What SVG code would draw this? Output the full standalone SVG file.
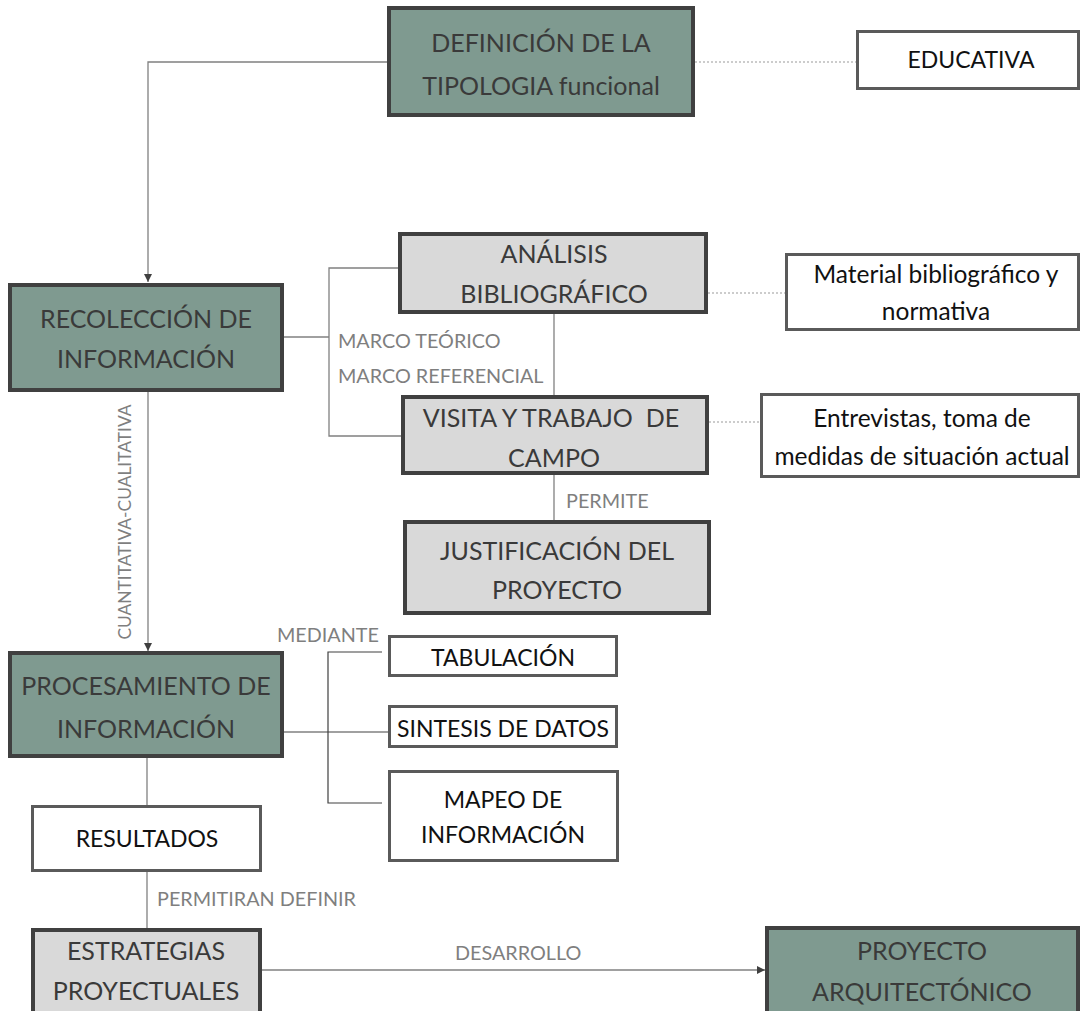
<svg xmlns="http://www.w3.org/2000/svg" width="1084" height="1011" viewBox="0 0 1084 1011">
<defs>
<style>
.sage{fill:#7f9a90;stroke:#404040;stroke-width:4}
.grey{fill:#d9d9d9;stroke:#404040;stroke-width:4}
.white{fill:#ffffff;stroke:#5a5a5a;stroke-width:3}
.t{font-family:Lato,"Liberation Sans",sans-serif;font-size:25px;fill:#3a3a3a;text-anchor:middle}
.tw{font-family:Lato,"Liberation Sans",sans-serif;font-size:23px;fill:#111111;text-anchor:middle}
.tl{font-size:24.5px}
.lbl{font-family:Lato,"Liberation Sans",sans-serif;font-size:19.8px;fill:#7f7f7f}
.vl{font-size:17.4px;text-anchor:middle}
.c{fill:none;stroke:#808080;stroke-width:1.3}
.cd{fill:none;stroke:#404040;stroke-width:1.2}
.d{fill:none;stroke:#9a9a9a;stroke-width:1.2;stroke-dasharray:2 2}
</style>
<marker id="arr" viewBox="0 0 10 10" refX="10" refY="5" markerWidth="8" markerHeight="8" markerUnits="userSpaceOnUse" orient="auto">
<path d="M0,0 L10,5 L0,10 z" fill="#404040"/>
</marker>
</defs>

<g id="connectors">
<polyline class="c" points="387,62 148,62 148,282" marker-end="url(#arr)"/>
<line class="c" x1="148" y1="392" x2="148" y2="651" marker-end="url(#arr)"/>
<line class="c" x1="284" y1="337" x2="329" y2="337"/>
<polyline class="c" points="398,268 329,268 329,436 401,436"/>
<line class="c" x1="554" y1="314" x2="554" y2="395"/>
<line class="c" x1="554" y1="475" x2="554" y2="520"/>
<line class="c" x1="284" y1="732" x2="388" y2="732"/>
<polyline class="cd" points="382,652 328,652 328,803 382,803"/>
<line class="c" x1="147" y1="758" x2="147" y2="805"/>
<line class="c" x1="147" y1="872" x2="147" y2="928"/>
<line class="c" x1="262" y1="970" x2="765" y2="970" marker-end="url(#arr)"/>
<line class="d" x1="695" y1="62" x2="856" y2="62"/>
<line class="d" x1="708" y1="293" x2="785" y2="293"/>
<line class="d" x1="709" y1="422" x2="760" y2="422"/>
<text class="lbl" x="338" y="348">MARCO TEÓRICO</text>
<text class="lbl" x="338" y="383">MARCO REFERENCIAL</text>
<text class="lbl" x="566" y="508">PERMITE</text>
<text class="lbl" x="277" y="642">MEDIANTE</text>
<text class="lbl" x="157" y="906">PERMITIRAN DEFINIR</text>
<text class="lbl" x="455" y="960">DESARROLLO</text>
<text class="lbl vl" transform="translate(131,522) rotate(-90)">CUANTITATIVA-CUALITATIVA</text>
</g>

<g id="n-definicion">
<rect class="sage" x="389" y="8" width="304" height="107"/>
<text class="t" x="541" y="52">DEFINICIÓN DE LA</text>
<text class="t" x="541" y="95">TIPOLOGIA funcional</text>
</g>
<g id="n-educativa">
<rect class="white" x="857.5" y="31.5" width="221" height="57"/>
<text class="tw" x="971" y="68">EDUCATIVA</text>
</g>
<g id="n-recoleccion">
<rect class="sage" x="10" y="285" width="272" height="105"/>
<text class="t" x="146" y="328">RECOLECCIÓN DE</text>
<text class="t" x="146" y="368">INFORMACIÓN</text>
</g>
<g id="n-analisis">
<rect class="grey" x="400" y="234" width="306" height="78"/>
<text class="t" x="554" y="263">ANÁLISIS</text>
<text class="t" x="554" y="303">BIBLIOGRÁFICO</text>
</g>
<g id="n-material">
<rect class="white" x="786.5" y="254.5" width="292" height="75"/>
<text class="tw tl" x="936" y="283">Material bibliográfico y</text>
<text class="tw tl" x="936" y="320">normativa</text>
</g>
<g id="n-visita">
<rect class="grey" x="403" y="397" width="304" height="76"/>
<text class="t" x="551" y="427" xml:space="preserve">VISITA Y TRABAJO  DE</text>
<text class="t" x="554" y="467">CAMPO</text>
</g>
<g id="n-entrevistas">
<rect class="white" x="761.5" y="394.5" width="317" height="82"/>
<text class="tw tl" x="922" y="427">Entrevistas, toma de</text>
<text class="tw tl" x="922" y="465">medidas de situación actual</text>
</g>
<g id="n-justificacion">
<rect class="grey" x="405" y="522" width="304" height="91"/>
<text class="t" x="557" y="560">JUSTIFICACIÓN DEL</text>
<text class="t" x="557" y="599">PROYECTO</text>
</g>
<g id="n-procesamiento">
<rect class="sage" x="10" y="653" width="272" height="103"/>
<text class="t" x="146" y="695">PROCESAMIENTO DE</text>
<text class="t" x="146" y="738">INFORMACIÓN</text>
</g>
<g id="n-tabulacion">
<rect class="white" x="389.5" y="636.5" width="227" height="39"/>
<text class="tw" x="503" y="666">TABULACIÓN</text>
</g>
<g id="n-sintesis">
<rect class="white" x="389.5" y="706.5" width="227" height="40"/>
<text class="tw" x="503" y="737">SINTESIS DE DATOS</text>
</g>
<g id="n-mapeo">
<rect class="white" x="389.5" y="771.5" width="228" height="89"/>
<text class="tw" x="503" y="808">MAPEO DE</text>
<text class="tw" x="503" y="843">INFORMACIÓN</text>
</g>
<g id="n-resultados">
<rect class="white" x="32.5" y="806.5" width="228" height="64"/>
<text class="tw" x="147" y="847">RESULTADOS</text>
</g>
<g id="n-estrategias">
<rect class="grey" x="33" y="930" width="227" height="95"/>
<text class="t" x="146" y="960">ESTRATEGIAS</text>
<text class="t" x="146" y="1000">PROYECTUALES</text>
</g>
<g id="n-proyecto">
<rect class="sage" x="767" y="928" width="311" height="95"/>
<text class="t" x="922" y="960">PROYECTO</text>
<text class="t" x="922" y="1001">ARQUITECTÓNICO</text>
</g>
</svg>
